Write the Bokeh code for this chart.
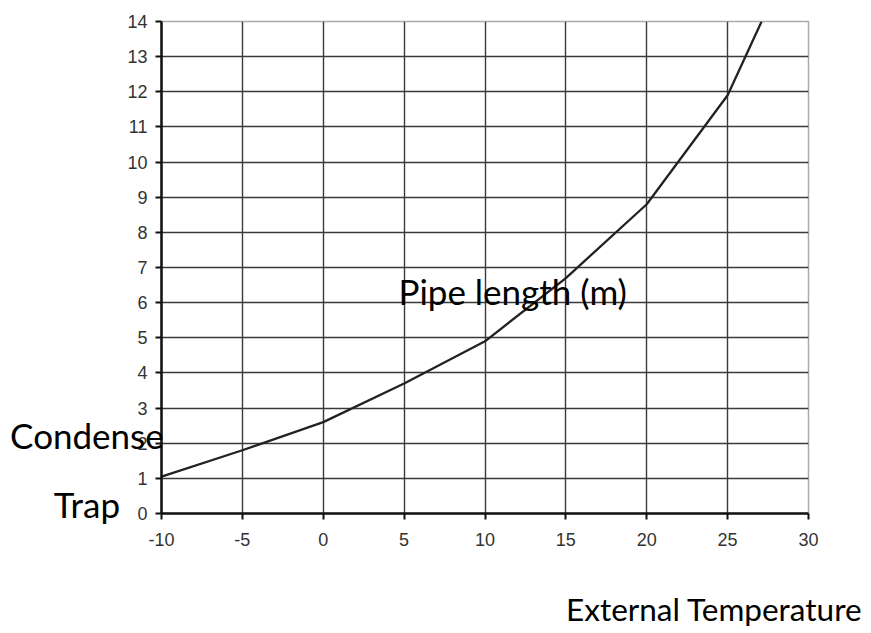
from bokeh.plotting import figure
from bokeh.models import Range1d, FixedTicker, CustomJSTickFormatter
from bokeh.core.properties import value
from bokeh.embed import file_html
from bokeh.resources import INLINE

# Data
temperature = [-10, -5, 0, 5, 10, 15, 20, 25, 27.1]
pipe_length = [1.05, 1.8, 2.6, 3.7, 4.9, 6.7, 8.8, 11.9, 14.0]
x_ticks = [-10, -5, 0, 5, 10, 15, 20, 25, 30]
y_ticks = list(range(0, 15))

W, H = 863, 633
p = figure(width=W, height=H, output_backend="svg", toolbar_location=None,
           x_range=Range1d(-10, 30), y_range=Range1d(0, 14),
           min_border_left=161, min_border_top=21, min_border_right=55, min_border_bottom=120)
p.background_fill_color = "white"
p.border_fill_color = "white"
p.outline_line_color = "#aaaaaa"
p.outline_line_width = 1.5

p.line(temperature, pipe_length, line_color="#222222", line_width=2.3)

fmt = CustomJSTickFormatter(code="return tick.toString();")
for ax in (p.xaxis[0], p.yaxis[0]):
    ax.axis_line_color = "#111111"
    ax.axis_line_width = 2.5
    ax.major_tick_line_color = "#111111"
    ax.major_tick_line_width = 2
    ax.major_tick_out = 6
    ax.major_tick_in = 0
    ax.minor_tick_line_color = None
    ax.major_label_text_font = "Liberation Sans"
    ax.major_label_text_font_size = "18px"
    ax.major_label_text_color = "#333333"
    ax.formatter = fmt
p.xaxis[0].ticker = FixedTicker(ticks=x_ticks)
p.yaxis[0].ticker = FixedTicker(ticks=y_ticks)
p.xaxis[0].major_label_standoff = 13
p.yaxis[0].major_label_standoff = 8

p.xgrid.ticker = FixedTicker(ticks=x_ticks)
p.ygrid.ticker = FixedTicker(ticks=y_ticks)
for g in (p.xgrid[0], p.ygrid[0]):
    g.grid_line_color = "#3a3a3a"
    g.grid_line_width = 1.4

txt = dict(text_font=value("Lato"), text_color="black",
           text_baseline="alphabetic", level="overlay")
# y-axis title, drawn left of the axis (two centred lines)
p.text(x=[-14.61, -14.61], y=[2.23, 0.26], text=["Condense", "Trap"],
       text_align="center", text_font_size="35px", **txt)
# series label inside the plot
p.text(x=[4.65], y=[6.33], text=["Pipe length (m)"], text_align="left",
       text_font_size="35px", **txt)
# x-axis title, bottom right
p.text(x=[33.34], y=[-2.73], text=["External Temperature"], text_align="right",
       text_font_size="31.5px", **txt)

open("out.html", "w").write(file_html(p, INLINE))
